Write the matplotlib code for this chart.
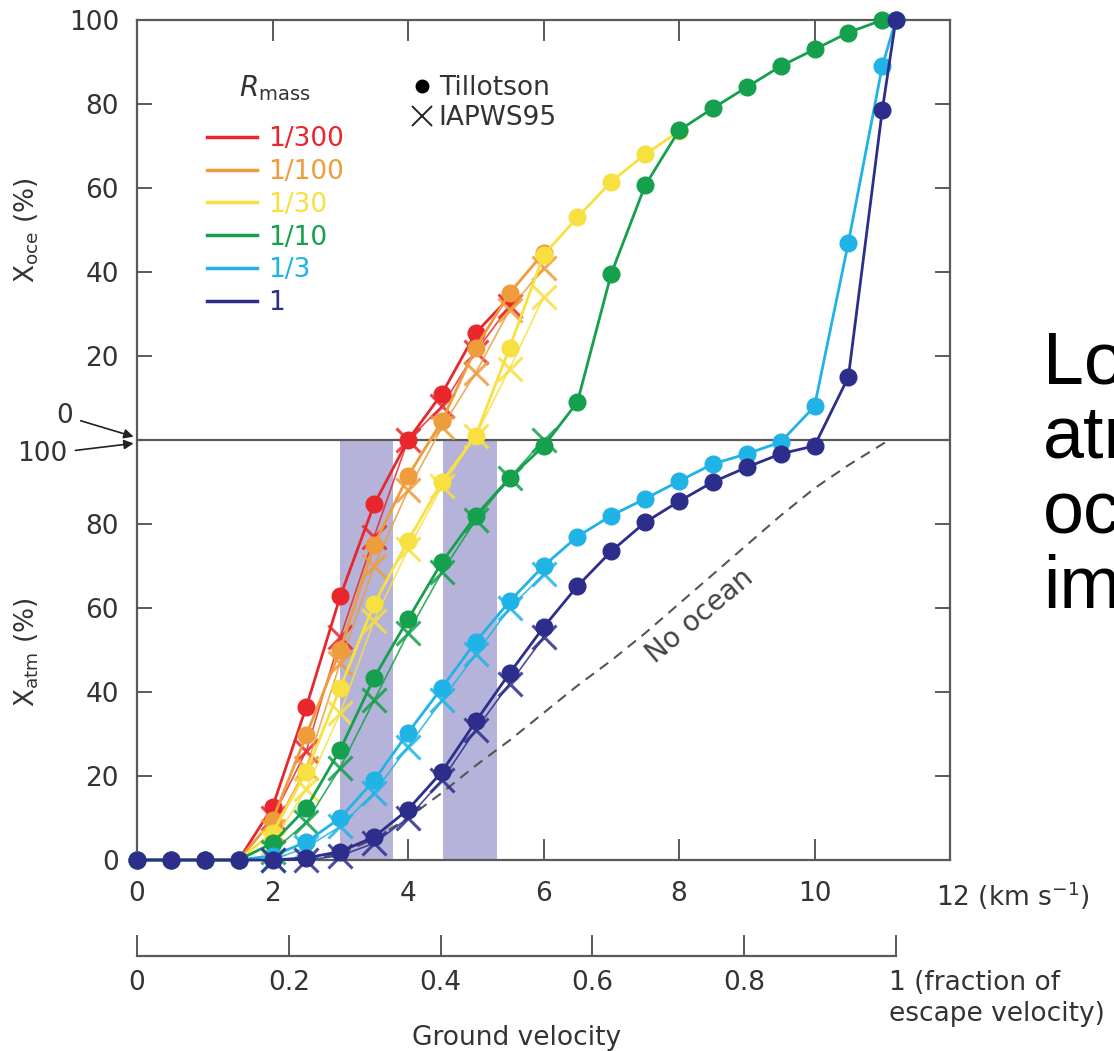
import matplotlib
matplotlib.use("Agg")
import matplotlib.pyplot as plt
from matplotlib.lines import Line2D
import numpy as np

plt.rcParams['font.family'] = ['DejaVu Sans']
plt.rcParams['mathtext.fontset'] = 'dejavusans'

W, H = 1114, 1051
v_esc = 11.2

# R_mass labels and colours
r_labels = ['1/300', '1/100', '1/30', '1/10', '1/3', '1']
r_colors = ['#e8262c', '#ee9c3c', '#f7e040', '#14a04c', '#1fb3e6', '#2d2d8c']

# Tillotson runs (circles): velocity (km/s), atmosphere loss, ocean loss (%)
vel = [0, 0.5, 1.0, 1.5, 2.0, 2.5, 3.0, 3.5, 4.0, 4.5, 5.0, 5.5, 6.0, 6.5,
       7.0, 7.5, 8.0, 8.5, 9.0, 9.5, 10.0, 10.5, 11.0, 11.2]

til_atm_300 = [0, 0, 0, 0, 12.6, 36.5, 62.8, 84.7, 100, 100, 100, 100]
til_oce_300 = [0, 0, 0, 0, 0, 0, 0, 0, 0, 11, 25.5, 34]

til_atm_100 = [0, 0, 0, 0, 9.5, 29.8, 50, 75, 91.4, 100, 100, 100, 100]
til_oce_100 = [0, 0, 0, 0, 0, 0, 0, 0, 0, 4.5, 22, 35, 44.5]

til_atm_30 = [0, 0, 0, 0, 6.5, 21, 41, 61, 76, 90, 100, 100, 100, 100, 100, 100, 100]
til_oce_30 = [0, 0, 0, 0, 0, 0, 0, 0, 0, 0, 1, 22, 44, 53, 61.5, 68, 73.5]

til_atm_10 = [0, 0, 0, 0, 4, 12.4, 26.3, 43.4, 57.3, 70.9, 82, 91, 98.5,
              100, 100, 100, 100, 100, 100, 100, 100, 100, 100, 100]
til_oce_10 = [0, 0, 0, 0, 0, 0, 0, 0, 0, 0, 0, 0, 0,
              9, 39.6, 60.6, 73.7, 79, 84, 89, 93, 97, 100, 100]

til_atm_3 = [0, 0, 0, 0, 1, 4.3, 10, 19, 30.3, 41, 52, 61.6, 70, 77, 82, 86,
             90.2, 94.3, 96.7, 99.5, 100, 100, 100, 100]
til_oce_3 = [0, 0, 0, 0, 0, 0, 0, 0, 0, 0, 0, 0, 0, 0, 0, 0,
             0, 0, 0, 0, 8, 47, 89, 100]

til_atm_1 = [0, 0, 0, 0, 0, 0.5, 2, 5.5, 12, 21, 33, 44.5, 55.4, 65.2, 73.5, 80.4,
             85.4, 90, 93.5, 96.7, 98.6, 100, 100, 100]
til_oce_1 = [0, 0, 0, 0, 0, 0, 0, 0, 0, 0, 0, 0, 0, 0, 0, 0,
             0, 0, 0, 0, 0, 15, 78.5, 100]

# IAPWS95 runs (crosses)
iap_vel = [2.0, 2.5, 3.0, 3.5, 4.0, 4.5, 5.0, 5.5, 6.0]

iap_atm_300 = [10, 26, 53, 77, 100, 100, 100, 100]
iap_oce_300 = [0, 0, 0, 0, 0, 8, 21, 32]
iap_atm_100 = [7, 22, 47, 70, 88, 100, 100, 100, 100]
iap_oce_100 = [0, 0, 0, 0, 0, 3, 16, 31, 41]
iap_atm_30 = [4, 17, 35, 57, 74, 89, 100, 100, 100]
iap_oce_30 = [0, 0, 0, 0, 0, 0, 1, 17, 34]
iap_atm_10 = [2, 9, 22, 38, 54, 68.5, 81, 91, 100]
iap_oce_10 = [0, 0, 0, 0, 0, 0, 0, 0, 0]
iap_atm_3 = [0, 3, 8, 16, 27, 38, 49, 60, 68]
iap_oce_3 = [0, 0, 0, 0, 0, 0, 0, 0, 0]
iap_atm_1 = [0, 0, 1, 4, 10, 19, 31, 42, 53]
iap_oce_1 = [0, 0, 0, 0, 0, 0, 0, 0, 0]

# no-ocean case (atmosphere loss only)
noocean_vel = [2.5, 3.0, 3.5, 4.0, 4.5, 5.0, 5.5, 6.0, 6.5, 7.0, 7.5, 8.0,
               8.5, 9.0, 9.5, 10.0, 10.5, 11.1]
noocean_atm = [0, 1.5, 5, 10, 16, 22.5, 28.5, 35, 41.5, 47.5, 54, 61,
               68, 75, 82, 88.5, 94, 100]

# shaded velocity ranges (km/s)
bands = [(3.0, 3.78), (4.52, 5.31)]

til_atm = [til_atm_300, til_atm_100, til_atm_30, til_atm_10, til_atm_3, til_atm_1]
til_oce = [til_oce_300, til_oce_100, til_oce_30, til_oce_10, til_oce_3, til_oce_1]
iap_atm = [iap_atm_300, iap_atm_100, iap_atm_30, iap_atm_10, iap_atm_3, iap_atm_1]
iap_oce = [iap_oce_300, iap_oce_100, iap_oce_30, iap_oce_10, iap_oce_3, iap_oce_1]

fs = 19
fig = plt.figure(figsize=(W / 100, H / 100), dpi=100)
ax = fig.add_axes([137 / W, 1 - 860 / H, (950 - 137) / W, (860 - 20) / H])
ax.set_xlim(0, 12)
ax.set_ylim(0, 200)

frame = '#5a5a5a'
txt = '#333333'

for a, b in bands:
    ax.axvspan(a, b, ymin=0, ymax=0.5, color='#b5b3d9', lw=0, zorder=0)
ax.axhline(100, color=frame, lw=1.6, zorder=1)

ax.plot(noocean_vel, noocean_atm, color='#555555', lw=1.5, ls=(0, (5, 3.5)), zorder=1.5)
ax.text(8.3, 58, 'No ocean', rotation=40, ha='center', va='center',
        fontsize=20, color='#444444')

for i in range(len(r_labels)):
    c = r_colors[i]
    y = np.array(til_atm[i]) + np.array(til_oce[i])
    ax.plot(vel[:len(y)], y, color=c, lw=2, marker='o', ms=12, mec=c,
            zorder=2 + i, clip_on=False)
    yi = np.array(iap_atm[i]) + np.array(iap_oce[i])
    ax.plot(iap_vel[:len(yi)], yi, color=c, lw=1.2, marker='x', ms=17, mew=2.2,
            alpha=0.85, zorder=2.5 + i, clip_on=False)

ax.set_xticks([0, 2, 4, 6, 8, 10, 12])
ax.set_xticklabels(['0', '2', '4', '6', '8', '10', ''])
ax.set_yticks([0, 20, 40, 60, 80, 120, 140, 160, 180, 200])
ax.set_yticklabels(['0', '20', '40', '60', '80', '20', '40', '60', '80', '100'])
ax.tick_params(axis='x', direction='in', length=15, width=1.4, top=True,
               color=frame, labelcolor=txt, labelsize=fs, pad=15)
ax.tick_params(axis='y', direction='in', length=11, width=1.4, right=True,
               color=frame, labelcolor=txt, labelsize=fs, pad=13)
for s in ax.spines.values():
    s.set_color(frame)
    s.set_linewidth(1.6)

ax.annotate('12 (km s$^{-1}$)', xy=(12, 0), xycoords='data', xytext=(-10, -14),
            textcoords='offset points', ha='left', va='top', fontsize=fs, color=txt)

# arrows marking the shared 0 / 100 line
ax.annotate('0', xy=(-0.05, 100.8), xytext=(-50, 15), textcoords='offset points',
            ha='center', va='center', fontsize=fs, color=txt,
            arrowprops=dict(arrowstyle='-|>', color='#222222', lw=1.2,
                            mutation_scale=14, shrinkA=4, shrinkB=0),
            annotation_clip=False)
ax.annotate('100', xy=(-0.05, 99.2), xytext=(-66, -8), textcoords='offset points',
            ha='center', va='center', fontsize=fs, color=txt,
            arrowprops=dict(arrowstyle='-|>', color='#222222', lw=1.2,
                            mutation_scale=14, shrinkA=4, shrinkB=0),
            annotation_clip=False)

fig.text(27 / W, 1 - 230 / H, r'X$_{\mathrm{oce}}$ (%)', rotation=90, ha='center',
         va='center', fontsize=fs, color=txt)
fig.text(27 / W, 1 - 652 / H, r'X$_{\mathrm{atm}}$ (%)', rotation=90, ha='center',
         va='center', fontsize=fs, color=txt)

# legends
fig.text(275 / W, 1 - 88 / H, r'$R_{\mathrm{mass}}$', ha='center', va='center',
         fontsize=fs + 1, color=txt)
r_handles = [Line2D([], [], color=c, lw=2.5) for c in r_colors]
leg1 = ax.legend(r_handles, r_labels, loc='upper left',
                 bbox_to_anchor=(207 / W, 1 - 126 / H), bbox_transform=fig.transFigure,
                 frameon=False, fontsize=fs, labelcolor='linecolor',
                 handlelength=1.9, handletextpad=0.42, labelspacing=0.26,
                 borderpad=0, borderaxespad=0)
ax.add_artist(leg1)

eos_handles = [Line2D([], [], color='k', ls='none', marker='o', ms=9),
               Line2D([], [], color='#222222', ls='none', marker='x', ms=14, mew=1.4)]
ax.legend(eos_handles, ['Tillotson', 'IAPWS95'], loc='upper left',
          bbox_to_anchor=(414 / W, 1 - 75 / H), bbox_transform=fig.transFigure,
          frameon=False, fontsize=fs, labelcolor=txt, handlelength=0.6,
          handletextpad=0.34, labelspacing=0.16, borderpad=0, borderaxespad=0)

# secondary axis: fraction of escape velocity
pos = ax.get_position()
ax2 = fig.add_axes([pos.x0, 1 - 956 / H, pos.width * v_esc / 12, 0.0001])
ax2.set_xlim(0, 1)
ax2.set_yticks([])
for k in ['top', 'left', 'right']:
    ax2.spines[k].set_visible(False)
ax2.spines['bottom'].set_color(frame)
ax2.spines['bottom'].set_linewidth(1.6)
ax2.set_xticks([0, 0.2, 0.4, 0.6, 0.8, 1.0])
ax2.set_xticklabels(['0', '0.2', '0.4', '0.6', '0.8', ''])
ax2.tick_params(axis='x', direction='in', length=15, width=1.4, color=frame,
                labelcolor=txt, labelsize=fs, pad=10)
ax2.set_xlabel('Ground velocity', fontsize=fs, color=txt, labelpad=21)
ax2.annotate('1 (fraction of\nescape velocity)', xy=(1, 0), xycoords=('data', 'axes fraction'),
             xytext=(-5, -10), textcoords='offset points', ha='left', va='top',
             fontsize=fs, color=txt, linespacing=1.25)

# slide text cut off at the right edge
for word, base in zip(['Lo', 'atm', 'oce', 'im'], [383, 458, 533, 608]):
    fig.text(1043 / W, 1 - base / H, word, fontsize=53, ha='left', va='baseline',
             color='black', family='Liberation Sans')

fig.savefig('out.png', dpi=100)
